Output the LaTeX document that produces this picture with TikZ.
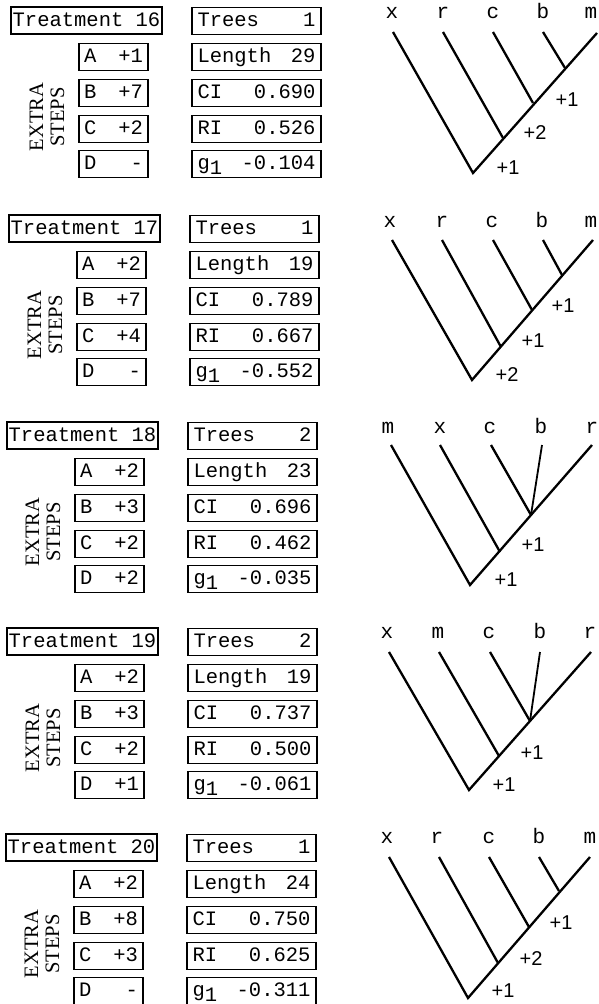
\documentclass[tikz,border=0pt]{standalone}
\usepackage{fontspec}
\setmainfont{Liberation Serif}
\setmonofont{Liberation Mono}
\newfontfamily\gainfont{Liberation Sans}

\begin{document}
\begin{tikzpicture}[
      x=1pt,y=-1pt,
      boxNode/.style={draw,line width=1.8pt,minimum height=27pt,inner sep=0pt,
                      text height=14pt,text depth=3pt,
                      font=\fontsize{20.5}{21}\selectfont\ttfamily},
      tNode/.style={boxNode,minimum width=151pt},
      sNode/.style={boxNode,minimum width=69pt},
      vNode/.style={boxNode,minimum width=129pt},
      xLab/.style={rotate=90,align=center,font=\fontsize{20.5}{21}\selectfont\rmfamily},
      tipLab/.style={anchor=base,font=\fontsize{21}{21}\selectfont\ttfamily},
      gainLab/.style={font=\fontsize{20}{20}\selectfont\gainfont},
      br/.style={line width=2.3pt,line join=miter}
    ]
    \useasboundingbox (0,0) rectangle (599,1004);

    % Treatment 16: boxes
    \begin{scope}[shift={(0,7)}]
    \node(tr16)[tNode] at (86.5,13.5) {Treatment 16};
    \node(ts16)[vNode] at (256.5,14) {\makebox[118pt]{Trees\hfill 1}};
    \node(sa16)[sNode] at (113.5,50) {\makebox[59pt]{A\hfill +1}};
    \node(ln16)[vNode] at (256.5,50) {\makebox[118pt]{Length\hfill 29}};
    \node(sb16)[sNode] at (113.5,86) {\makebox[59pt]{B\hfill +7}};
    \node(ci16)[vNode] at (256.5,86) {\makebox[118pt]{CI\hfill 0.690}};
    \node(sc16)[sNode] at (113.5,122) {\makebox[59pt]{C\hfill +2}};
    \node(ri16)[vNode] at (256.5,122) {\makebox[118pt]{RI\hfill 0.526}};
    \node(sd16)[sNode] at (113.5,157) {\makebox[59pt]{D\hfill -}};
    \node(gi16)[vNode] at (256.5,157) {\makebox[118pt]{g\raisebox{-5pt}{1}\hfill -0.104}};
    \node(ex16)[xLab] at (47,110) {EXTRA\\STEPS};
    \end{scope}

    % Treatment 16: tree
    \begin{scope}[shift={(0,7)}]
    \node(x16)[tipLab] at (392,11) {x};
    \node(r16)[tipLab] at (443,11) {r};
    \node(c16)[tipLab] at (493,11) {c};
    \node(b16)[tipLab] at (543,11) {b};
    \node(m16)[tipLab] at (591,11) {m};
    \coordinate (x16t) at (393,25);
    \coordinate (r16t) at (443,25);
    \coordinate (c16t) at (493,25);
    \coordinate (b16t) at (543,25);
    \coordinate (m16t) at (597,26);
    \coordinate (n16a) at (473,166);
    \coordinate (n16b) at (503,131);
    \coordinate (n16c) at (533,96);
    \coordinate (n16d) at (565,61);
    \draw[br] (x16t) -- (n16a) -- (m16t);
    \draw[br] (r16t) -- (n16b);
    \draw[br] (c16t) -- (n16c);
    \draw[br] (b16t) -- (n16d);
    \node(p16a)[gainLab] at (567,93) {+1};
    \node(p16b)[gainLab] at (535,126) {+2};
    \node(p16c)[gainLab] at (508,161) {+1};
    \end{scope}

    % Treatment 17: boxes
    \begin{scope}[shift={(-2,215)}]
    \node(tr17)[tNode] at (86.5,13.5) {Treatment 17};
    \node(ts17)[vNode] at (256.5,14) {\makebox[118pt]{Trees\hfill 1}};
    \node(sa17)[sNode] at (113.5,50) {\makebox[59pt]{A\hfill +2}};
    \node(ln17)[vNode] at (256.5,50) {\makebox[118pt]{Length\hfill 19}};
    \node(sb17)[sNode] at (113.5,86) {\makebox[59pt]{B\hfill +7}};
    \node(ci17)[vNode] at (256.5,86) {\makebox[118pt]{CI\hfill 0.789}};
    \node(sc17)[sNode] at (113.5,122) {\makebox[59pt]{C\hfill +4}};
    \node(ri17)[vNode] at (256.5,122) {\makebox[118pt]{RI\hfill 0.667}};
    \node(sd17)[sNode] at (113.5,157) {\makebox[59pt]{D\hfill -}};
    \node(gi17)[vNode] at (256.5,157) {\makebox[118pt]{g\raisebox{-5pt}{1}\hfill -0.552}};
    \node(ex17)[xLab] at (47,110) {EXTRA\\STEPS};
    \end{scope}

    % Treatment 17: tree
    \begin{scope}[shift={(0,215)}]
    \node(x17)[tipLab] at (390,12) {x};
    \node(r17)[tipLab] at (442,12) {r};
    \node(c17)[tipLab] at (492,12) {c};
    \node(b17)[tipLab] at (542,12) {b};
    \node(m17)[tipLab] at (591,12) {m};
    \coordinate (x17t) at (392,25);
    \coordinate (r17t) at (442,25);
    \coordinate (c17t) at (493,25);
    \coordinate (b17t) at (543,25);
    \coordinate (m17t) at (593,25);
    \coordinate (n17a) at (472,165);
    \coordinate (n17b) at (501,132);
    \coordinate (n17c) at (532,95);
    \coordinate (n17d) at (562,60);
    \draw[br] (x17t) -- (n17a) -- (m17t);
    \draw[br] (r17t) -- (n17b);
    \draw[br] (c17t) -- (n17c);
    \draw[br] (b17t) -- (n17d);
    \node(p17a)[gainLab] at (563,91) {+1};
    \node(p17b)[gainLab] at (533,126) {+1};
    \node(p17c)[gainLab] at (507,160) {+2};
    \end{scope}

    % Treatment 18: boxes
    \begin{scope}[shift={(-4,422)}]
    \node(tr18)[tNode] at (86.5,13.5) {Treatment 18};
    \node(ts18)[vNode] at (256.5,14) {\makebox[118pt]{Trees\hfill 2}};
    \node(sa18)[sNode] at (113.5,50) {\makebox[59pt]{A\hfill +2}};
    \node(ln18)[vNode] at (256.5,50) {\makebox[118pt]{Length\hfill 23}};
    \node(sb18)[sNode] at (113.5,86) {\makebox[59pt]{B\hfill +3}};
    \node(ci18)[vNode] at (256.5,86) {\makebox[118pt]{CI\hfill 0.696}};
    \node(sc18)[sNode] at (113.5,122) {\makebox[59pt]{C\hfill +2}};
    \node(ri18)[vNode] at (256.5,122) {\makebox[118pt]{RI\hfill 0.462}};
    \node(sd18)[sNode] at (113.5,157) {\makebox[59pt]{D\hfill +2}};
    \node(gi18)[vNode] at (256.5,157) {\makebox[118pt]{g\raisebox{-5pt}{1}\hfill -0.035}};
    \node(ex18)[xLab] at (47,110) {EXTRA\\STEPS};
    \end{scope}

    % Treatment 18: tree
    \begin{scope}[shift={(0,422)}]
    \node(m18)[tipLab] at (388,11) {m};
    \node(x18)[tipLab] at (440,11) {x};
    \node(c18)[tipLab] at (490,11) {c};
    \node(b18)[tipLab] at (541,11) {b};
    \node(r18)[tipLab] at (592,11) {r};
    \coordinate (m18t) at (391,23);
    \coordinate (x18t) at (440,23);
    \coordinate (c18t) at (491,23);
    \coordinate (b18t) at (542,23);
    \coordinate (r18t) at (592,23);
    \coordinate (n18a) at (470,163);
    \coordinate (n18b) at (500,130);
    \coordinate (n18c) at (531,93);
    \draw[br] (m18t) -- (n18a) -- (r18t);
    \draw[br] (x18t) -- (n18b);
    \draw[br] (c18t) -- (n18c);
    \draw[br,line width=1.8pt] (b18t) -- (n18c);
    \node(p18a)[gainLab] at (533,123) {+1};
    \node(p18b)[gainLab] at (506,158) {+1};
    \end{scope}

    % Treatment 19: boxes
    \begin{scope}[shift={(-4,628)}]
    \node(tr19)[tNode] at (86.5,13.5) {Treatment 19};
    \node(ts19)[vNode] at (256.5,14) {\makebox[118pt]{Trees\hfill 2}};
    \node(sa19)[sNode] at (113.5,50) {\makebox[59pt]{A\hfill +2}};
    \node(ln19)[vNode] at (256.5,50) {\makebox[118pt]{Length\hfill 19}};
    \node(sb19)[sNode] at (113.5,86) {\makebox[59pt]{B\hfill +3}};
    \node(ci19)[vNode] at (256.5,86) {\makebox[118pt]{CI\hfill 0.737}};
    \node(sc19)[sNode] at (113.5,122) {\makebox[59pt]{C\hfill +2}};
    \node(ri19)[vNode] at (256.5,122) {\makebox[118pt]{RI\hfill 0.500}};
    \node(sd19)[sNode] at (113.5,157) {\makebox[59pt]{D\hfill +1}};
    \node(gi19)[vNode] at (256.5,157) {\makebox[118pt]{g\raisebox{-5pt}{1}\hfill -0.061}};
    \node(ex19)[xLab] at (47,110) {EXTRA\\STEPS};
    \end{scope}

    % Treatment 19: tree
    \begin{scope}[shift={(0,628)}]
    \node(x19)[tipLab] at (387,10) {x};
    \node(m19)[tipLab] at (438,10) {m};
    \node(c19)[tipLab] at (489,10) {c};
    \node(b19)[tipLab] at (540,10) {b};
    \node(r19)[tipLab] at (590,10) {r};
    \coordinate (x19t) at (389,24);
    \coordinate (m19t) at (439,24);
    \coordinate (c19t) at (490,24);
    \coordinate (b19t) at (540,24);
    \coordinate (r19t) at (591,24);
    \coordinate (n19a) at (469,162);
    \coordinate (n19b) at (499,128);
    \coordinate (n19c) at (530,93);
    \draw[br] (x19t) -- (n19a) -- (r19t);
    \draw[br] (m19t) -- (n19b);
    \draw[br] (c19t) -- (n19c);
    \draw[br,line width=1.8pt] (b19t) -- (n19c);
    \node(p19a)[gainLab] at (532,125) {+1};
    \node(p19b)[gainLab] at (504,157) {+1};
    \end{scope}

    % Treatment 20: boxes
    \begin{scope}[shift={(-5,834)}]
    \node(tr20)[tNode] at (86.5,13.5) {Treatment 20};
    \node(ts20)[vNode] at (256.5,14) {\makebox[118pt]{Trees\hfill 1}};
    \node(sa20)[sNode] at (113.5,50) {\makebox[59pt]{A\hfill +2}};
    \node(ln20)[vNode] at (256.5,50) {\makebox[118pt]{Length\hfill 24}};
    \node(sb20)[sNode] at (113.5,86) {\makebox[59pt]{B\hfill +8}};
    \node(ci20)[vNode] at (256.5,86) {\makebox[118pt]{CI\hfill 0.750}};
    \node(sc20)[sNode] at (113.5,122) {\makebox[59pt]{C\hfill +3}};
    \node(ri20)[vNode] at (256.5,122) {\makebox[118pt]{RI\hfill 0.625}};
    \node(sd20)[sNode] at (113.5,157) {\makebox[59pt]{D\hfill -}};
    \node(gi20)[vNode] at (256.5,157) {\makebox[118pt]{g\raisebox{-5pt}{1}\hfill -0.311}};
    \node(ex20)[xLab] at (47,110) {EXTRA\\STEPS};
    \end{scope}

    % Treatment 20: tree
    \begin{scope}[shift={(0,834)}]
    \node(x20)[tipLab] at (387,9) {x};
    \node(r20)[tipLab] at (437,9) {r};
    \node(c20)[tipLab] at (489,9) {c};
    \node(b20)[tipLab] at (539,9) {b};
    \node(m20)[tipLab] at (590,9) {m};
    \coordinate (x20t) at (389,23);
    \coordinate (r20t) at (439,23);
    \coordinate (c20t) at (489,23);
    \coordinate (b20t) at (539,23);
    \coordinate (m20t) at (590,23);
    \coordinate (n20a) at (468,164);
    \coordinate (n20b) at (498,129);
    \coordinate (n20c) at (529,93);
    \coordinate (n20d) at (559,57);
    \draw[br] (x20t) -- (n20a) -- (m20t);
    \draw[br] (r20t) -- (n20b);
    \draw[br] (c20t) -- (n20c);
    \draw[br] (b20t) -- (n20d);
    \node(p20a)[gainLab] at (561,89) {+1};
    \node(p20b)[gainLab] at (531,125) {+2};
    \node(p20c)[gainLab] at (503,157) {+1};
    \end{scope}
  \end{tikzpicture}
\end{document}
